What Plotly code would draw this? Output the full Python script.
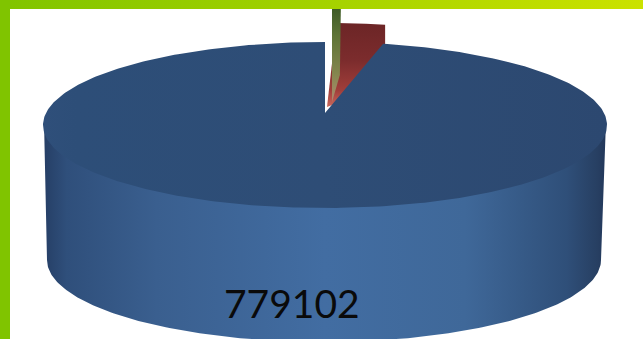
import numpy as np
import plotly.graph_objects as go

# Data (slice values, clockwise from 12 o'clock)
slice_names = ["Green", "Red", "Blue"]
slice_values = [4030, 22600, 779102]
label_text = "779102"

# Projection settings for the 3D look
W, H = 643, 339
TOP_C = (325, 125)
TOP_R = (282, 83)
BOT_C = (324, 260)
BOT_R = (277, 82)
BLUE_APEX = (325, 113)
RED_C = (327, 107)
GREEN_C = (332, 90)
WEDGE_DEPTH = 60
SIDE_OVERLAP = 4

total = sum(slice_values)
edges = np.concatenate([[0], np.cumsum(slice_values)]) / total * 360.0


def arc(c, r, a0, a1, n=200):
    t = np.radians(np.linspace(a0, a1, n))
    return c[0] + r[0] * np.sin(t), c[1] - r[1] * np.cos(t)


def poly_trace(x, y, grad):
    return go.Scatter(
        x=np.r_[x, x[0]], y=np.r_[y, y[0]],
        mode="lines", line=dict(width=0), fill="toself",
        fillgradient=grad, hoverinfo="skip", showlegend=False,
    )


def hgrad(stops):
    return dict(type="horizontal", colorscale=stops)


def vgrad(stops):
    # y axis runs downward, so position 0 is the lowest on screen
    return dict(type="vertical", colorscale=[[round(1 - p, 4), c] for p, c in stops][::-1])


fig = go.Figure()

# exploded red wedge (behind the blue slice)
rx, ry = arc(RED_C, (TOP_R[0], 84), edges[1], edges[2])
fig.add_trace(poly_trace(
    np.r_[RED_C[0], rx, rx[-1], RED_C[0]],
    np.r_[RED_C[1], ry, ry[-1] + WEDGE_DEPTH, RED_C[1]],
    vgrad([[0, "#6c2526"], [0.45, "#7c2c2d"], [0.8, "#a03e3a"], [1, "#c9685c"]]),
))

# exploded green sliver
gx, gy = arc(GREEN_C, TOP_R, edges[0], edges[1])
fig.add_trace(poly_trace(
    np.r_[GREEN_C[0], gx[0], gx[-1], gx[-1] - 1],
    np.r_[GREEN_C[1] + 12, gy[0], gy[-1], GREEN_C[1] - 15],
    vgrad([[0, "#3c5a26"], [0.3, "#5e7436"], [0.7, "#84864e"], [1, "#b08a70"]]),
))

# blue side wall: top rim front half + bottom rim (tucked under the top face)
tx, ty = arc((TOP_C[0], TOP_C[1] - SIDE_OVERLAP), (TOP_R[0] - 1, TOP_R[1]), 90, 270)
bx, by = arc(BOT_C, BOT_R, 270, 90)
side_stops = [[0, "#263f66"], [0.04, "#2f4f7b"], [0.2, "#3a5f8f"], [0.5, "#426da2"],
              [0.75, "#3f6899"], [0.93, "#2f4f79"], [0.985, "#273f62"], [1, "#22375a"]]
fig.add_trace(poly_trace(np.r_[tx, bx], np.r_[ty, by], hgrad(side_stops)))

# blue top face
ax, ay = arc(TOP_C, TOP_R, edges[2], edges[3], 400)
fig.add_trace(poly_trace(
    np.r_[BLUE_APEX[0], ax], np.r_[BLUE_APEX[1], ay],
    hgrad([[0, "#2f4f7a"], [0.06, "#2d4e78"], [0.5, "#2e4d76"], [1, "#2c4870"]]),
))

# background frame bars
fig.add_trace(poly_trace([0, W, W, 0], [0, 0, 9, 9],
                         hgrad([[0, "#80c400"], [0.5, "#a4d200"], [1, "#cbe200"]])))
fig.add_trace(poly_trace([0, 10, 10, 0], [0, 0, H, H],
                         vgrad([[0, "#80c400"], [1, "#80c400"]])))

fig.add_annotation(
    x=292, y=303, xref="x", yref="y", text=label_text, showarrow=False,
    font=dict(family="Lato, Carlito, Open Sans, sans-serif", size=39, color="#0a0a0a"),
)

fig.update_layout(
    width=W, height=H, margin=dict(l=0, r=0, t=0, b=0),
    paper_bgcolor="white", plot_bgcolor="white", showlegend=False,
    xaxis=dict(range=[0, W], visible=False, fixedrange=True),
    yaxis=dict(range=[H, 0], visible=False, fixedrange=True),
)
fig.write_html("out.html", config=dict(displayModeBar=False),
               post_script="document.body.style.margin='0';document.body.style.overflow='hidden';")
